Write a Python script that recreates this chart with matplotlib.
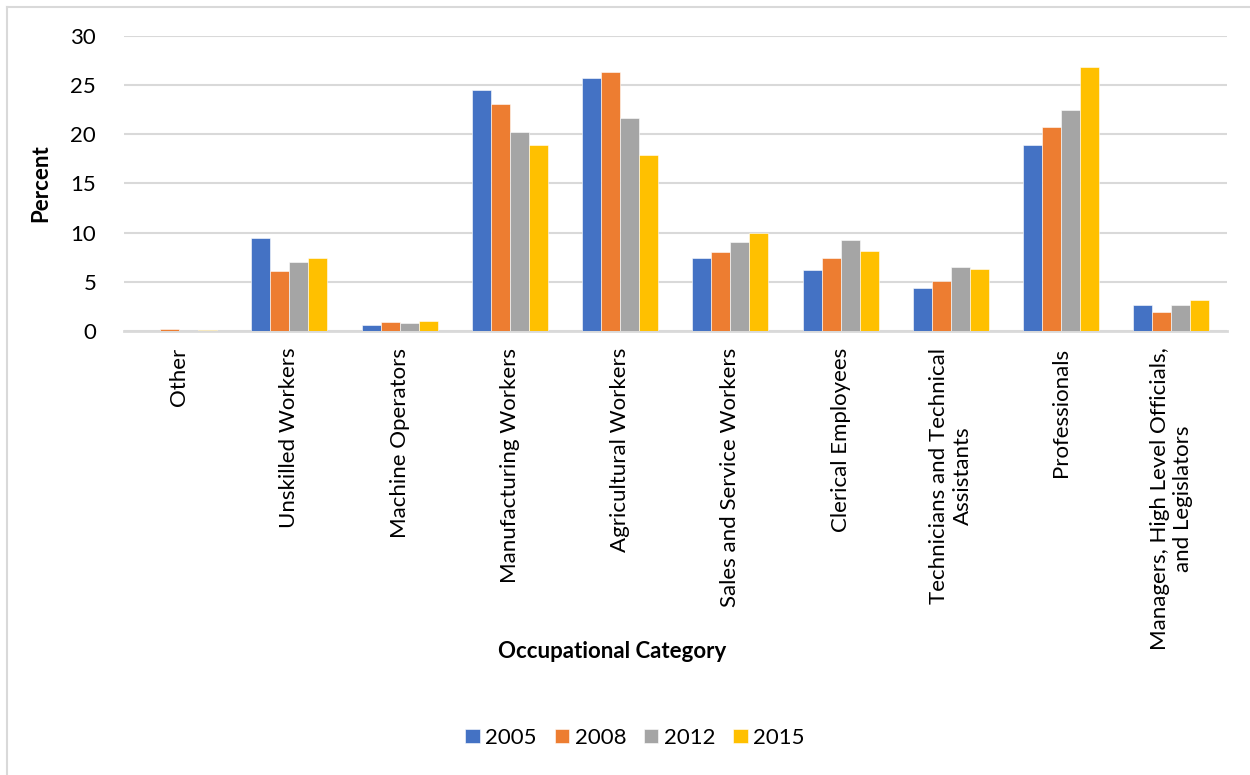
import numpy as np
import matplotlib.pyplot as plt
from matplotlib.lines import Line2D

plt.rcParams['font.family'] = ['Lato', 'DejaVu Sans']

categorias = ["Other", "Unskilled Workers", "Machine Operators", "Manufacturing Workers",
              "Agricultural Workers", "Sales and Service Workers", "Clerical Employees",
              "Technicians and Technical\nAssistants", "Professionals",
              "Managers, High Level Officials,\nand Legislators"]
años = ["2005", "2008", "2012", "2015"]
v2005 = [0.0, 9.43, 0.58, 24.5, 25.7, 7.4, 6.17, 4.4, 18.9, 2.6]
v2008 = [0.2, 6.13, 0.92, 23.1, 26.3, 8.0, 7.4, 5.08, 20.7, 1.9]
v2012 = [0.0, 7.0, 0.78, 20.25, 21.65, 9.05, 9.2, 6.48, 22.45, 2.65]
v2015 = [0.1, 7.4, 0.98, 18.95, 17.9, 9.97, 8.1, 6.34, 26.8, 3.1]
series = [v2005, v2008, v2012, v2015]
colores = ["#4472C4", "#ED7D31", "#A5A5A5", "#FFC000"]

fig = plt.figure(figsize=(12.5, 7.75), dpi=100)
ax = fig.add_axes([0.0992, 0.573, 0.882, 0.3805])

x = np.arange(len(categorias))
ancho = 0.172
for k, (vals, c, lab) in enumerate(zip(series, colores, años)):
    ax.bar(x + (k - 1.5) * ancho, vals, ancho, color=c, label=lab,
           edgecolor="white", linewidth=0.4, zorder=3)

ax.set_xlim(-0.5, len(categorias) - 0.5)
ax.set_ylim(0, 30)
ax.set_yticks(range(0, 31, 5))
ax.grid(axis="y", color="#d9d9d9", linewidth=1.5, zorder=0)
for s in ["top", "right", "left"]:
    ax.spines[s].set_visible(False)
ax.spines["bottom"].set_color("#d9d9d9")
ax.spines["bottom"].set_linewidth(2)
ax.tick_params(axis="both", length=0, labelsize=16, colors="black")
ax.tick_params(axis="y", pad=20)
ax.set_xticks(x)
ax.set_xticklabels(categorias, rotation=90, ha="center", va="top",
                   multialignment="center")
ax.tick_params(axis="x", pad=12)

ax.set_ylabel("Percent", fontsize=16, fontweight="bold", labelpad=14)
fig.text(0.49, 0.16, "Occupational Category", fontsize=16, fontweight="bold",
         ha="center", va="center")

fig.legend(loc="center", bbox_to_anchor=(0.508, 0.048), ncol=4, frameon=False,
           fontsize=16, handlelength=0.65, handleheight=0.65, columnspacing=0.8,
           handletextpad=0.25)

# borde del gráfico
fig.add_artist(Line2D([7 / 1250, 7 / 1250], [0, 1 - 7 / 775], transform=fig.transFigure,
                      color="#d9d9d9", linewidth=1.5))
fig.add_artist(Line2D([7 / 1250, 1], [1 - 7 / 775, 1 - 7 / 775], transform=fig.transFigure,
                      color="#d9d9d9", linewidth=1.5))

plt.savefig("out.png", dpi=100)
